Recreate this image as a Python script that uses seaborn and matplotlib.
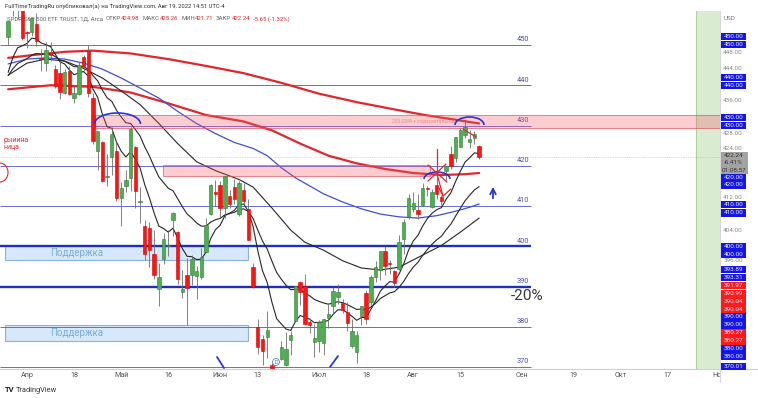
import numpy as np
import pandas as pd
import matplotlib.pyplot as plt
from matplotlib.patches import Rectangle, Arc
import seaborn as sns

sns.set_theme(style="white")
plt.rcParams['font.family'] = ['Roboto', 'DejaVu Sans']

# SPY daily bars (1D), 28 Mar - 19 Aug 2022
dates = ['03-28', '03-29', '03-30', '03-31', '04-01', '04-04', '04-05', '04-06', '04-07', '04-08',
         '04-11', '04-12', '04-13', '04-14', '04-18', '04-19', '04-20', '04-21', '04-22', '04-25',
         '04-26', '04-27', '04-28', '04-29', '05-02', '05-03', '05-04', '05-05', '05-06', '05-09',
         '05-10', '05-11', '05-12', '05-13', '05-16', '05-17', '05-18', '05-19', '05-20', '05-23',
         '05-24', '05-25', '05-26', '05-27', '05-31', '06-01', '06-02', '06-03', '06-06', '06-07',
         '06-08', '06-09', '06-10', '06-13', '06-14', '06-15', '06-16', '06-17', '06-21', '06-22',
         '06-23', '06-24', '06-27', '06-28', '06-29', '06-30', '07-01', '07-05', '07-06', '07-07',
         '07-08', '07-11', '07-12', '07-13', '07-14', '07-15', '07-18', '07-19', '07-20', '07-21',
         '07-22', '07-25', '07-26', '07-27', '07-28', '07-29', '08-01', '08-02', '08-03', '08-04',
         '08-05', '08-08', '08-09', '08-10', '08-11', '08-12', '08-15', '08-16', '08-17', '08-18',
         '08-19']
opens = [452.06, 460.02, 460.34, 458.60, 453.31, 453.13, 455.22, 446.89, 445.59, 447.97,
         444.11, 443.08, 438.03, 443.55, 436.81, 437.86, 446.92, 448.54, 436.91, 423.67,
         425.83, 417.24, 422.29, 423.59, 412.07, 415.01, 417.08, 424.55, 411.10, 405.10,
         404.49, 398.07, 389.37, 396.71, 399.98, 406.53, 403.50, 388.62, 392.83, 392.83,
         392.56, 392.31, 398.67, 407.91, 413.55, 415.17, 409.42, 412.40, 414.78, 408.10,
         413.93, 409.34, 394.88, 379.85, 376.85, 377.36, 370.51, 365.51, 371.89, 370.62,
         376.64, 381.40, 391.05, 390.23, 381.23, 376.24, 376.56, 375.88, 382.11, 385.12,
         387.27, 385.85, 383.65, 375.10, 373.61, 382.55, 388.38, 386.08, 392.47, 394.16,
         398.92, 395.75, 393.84, 394.36, 401.89, 407.58, 409.15, 409.12, 410.30, 414.37,
         409.66, 415.25, 412.22, 418.78, 422.99, 422.03, 424.77, 427.73, 425.99, 426.86,
         424.98]
highs = [455.91, 462.07, 461.20, 458.76, 453.46, 456.91, 457.83, 448.93, 450.69, 450.63,
         445.00, 445.75, 444.11, 444.73, 439.75, 445.80, 447.57, 450.01, 438.08, 428.69,
         426.04, 422.92, 429.64, 425.87, 415.92, 418.93, 429.66, 425.00, 414.80, 406.41,
         406.08, 404.04, 395.80, 403.18, 403.97, 408.57, 403.80, 394.14, 397.03, 397.73,
         395.15, 399.45, 407.04, 415.38, 416.46, 416.24, 417.44, 414.04, 416.61, 416.22,
         415.82, 411.74, 395.78, 381.81, 377.94, 383.90, 370.94, 369.38, 376.53, 378.72,
         378.83, 390.09, 391.36, 393.16, 382.27, 380.66, 381.70, 381.98, 385.87, 389.83,
         390.64, 386.87, 386.16, 381.92, 379.05, 385.25, 389.09, 392.87, 396.26, 398.84,
         400.18, 396.47, 394.06, 402.88, 406.80, 413.03, 413.41, 413.00, 415.68, 415.09,
         414.15, 417.62, 412.75, 420.00, 424.95, 427.21, 429.50, 431.73, 428.88, 428.61,
         425.26]
lows = [450.06, 457.18, 456.47, 451.16, 449.14, 452.26, 449.82, 443.47, 443.53, 445.94,
        439.39, 436.65, 437.84, 437.68, 435.61, 437.68, 443.48, 437.10, 425.44, 418.84,
        416.07, 415.01, 417.60, 411.21, 405.02, 413.36, 413.71, 409.44, 405.73, 396.50,
        394.82, 391.96, 385.15, 395.61, 397.60, 402.58, 390.55, 387.11, 380.54, 390.38,
        386.96, 391.89, 398.45, 407.70, 410.03, 406.93, 407.04, 409.51, 410.55, 407.61,
        410.38, 401.44, 389.75, 373.30, 370.59, 372.12, 364.08, 362.17, 371.81, 370.18,
        372.89, 381.37, 385.45, 380.53, 378.42, 372.56, 373.80, 372.90, 379.60, 383.27,
        385.66, 383.50, 378.99, 374.66, 371.04, 380.54, 380.66, 385.39, 391.03, 391.63,
        392.75, 393.21, 389.95, 394.05, 398.15, 406.77, 408.40, 406.82, 410.00, 412.44,
        409.60, 411.83, 410.22, 415.94, 419.21, 421.03, 424.71, 426.88, 424.49, 425.50,
        421.71]
closes = [455.91, 461.55, 458.70, 451.64, 452.92, 456.80, 451.03, 446.52, 448.77, 447.57,
          439.92, 438.29, 443.31, 437.79, 437.97, 445.04, 444.71, 438.06, 426.04, 428.51,
          416.10, 417.27, 427.81, 412.00, 414.48, 416.38, 429.06, 413.81, 411.34, 398.17,
          399.09, 392.75, 392.34, 401.72, 400.09, 408.32, 391.86, 389.46, 389.63, 396.92,
          393.89, 397.37, 405.31, 415.26, 412.93, 409.59, 417.39, 410.54, 411.79, 415.74,
          411.22, 401.44, 389.80, 375.00, 373.87, 379.20, 366.65, 365.86, 375.07, 374.39,
          378.06, 390.08, 388.59, 380.65, 380.34, 377.25, 381.24, 381.96, 383.25, 388.99,
          388.67, 384.23, 380.83, 378.83, 377.91, 385.13, 381.95, 392.27, 394.77, 398.79,
          395.09, 395.57, 390.89, 401.04, 406.07, 411.99, 410.77, 408.06, 414.45, 414.17,
          413.47, 412.99, 411.35, 419.99, 419.99, 427.10, 428.86, 429.70, 426.65, 427.89,
          422.24]

# moving averages
ema_fast = [443.2, 446.9, 449.3, 449.8, 450.4, 451.7, 451.5, 450.5, 450.1, 449.6,
            447.7, 445.8, 445.3, 443.8, 442.6, 443.1, 443.4, 442.3, 439.1, 437.0,
            432.8, 429.7, 429.3, 425.9, 423.6, 422.2, 423.5, 421.6, 419.5, 415.3,
            412.0, 408.2, 405.0, 404.4, 403.5, 404.5, 402.0, 399.4, 397.5, 397.4,
            396.7, 396.8, 398.5, 401.9, 404.1, 405.2, 407.6, 408.2, 408.9, 410.3,
            410.5, 408.7, 404.9, 398.9, 393.9, 391.0, 386.1, 382.0, 380.7, 379.4,
            379.1, 381.3, 382.8, 382.3, 381.9, 381.0, 381.1, 381.2, 381.6, 383.1,
            384.2, 384.2, 383.5, 382.6, 381.6, 382.3, 382.3, 384.3, 386.4, 388.8,
            390.1, 391.2, 391.1, 393.1, 395.7, 399.0, 401.3, 402.7, 405.0, 406.9,
            408.2, 409.1, 409.6, 411.7, 413.3, 416.1, 418.6, 420.9, 422.0, 423.2,
            423.0]
ema_mid = [442.4, 444.1, 445.4, 446.0, 446.6, 447.5, 447.9, 447.7, 447.8, 447.8,
           447.1, 446.3, 446.0, 445.3, 444.6, 444.6, 444.6, 444.0, 442.4, 441.1,
           438.8, 436.9, 436.0, 433.8, 432.1, 430.7, 430.5, 429.0, 427.4, 424.7,
           422.4, 419.7, 417.2, 415.8, 414.4, 413.8, 411.8, 409.8, 408.0, 407.0,
           405.8, 405.0, 405.0, 406.0, 406.6, 406.9, 407.8, 408.1, 408.4, 409.1,
           409.3, 408.6, 406.9, 404.0, 401.3, 399.3, 396.3, 393.5, 391.8, 390.3,
           389.2, 389.3, 389.2, 388.4, 387.7, 386.8, 386.3, 385.9, 385.6, 385.9,
           386.2, 386.0, 385.5, 384.9, 384.3, 384.4, 384.1, 384.9, 385.8, 387.0,
           387.7, 388.4, 388.7, 389.8, 391.3, 393.2, 394.8, 396.0, 397.7, 399.2,
           400.5, 401.6, 402.5, 404.1, 405.5, 407.5, 409.4, 411.3, 412.7, 414.0,
           414.8]
slow_bar = [0, 4, 8, 12, 16, 20, 24, 28, 32, 36, 40, 44, 49, 52, 56, 60, 63, 67, 71, 75,
            79, 83, 87, 92, 96, 100]
slow_val = [442.5, 445.5, 446.5, 446.0, 444.2, 441.8, 438.6, 435.2, 430.5, 425.5, 421.0,
            418.8, 416.6, 414.7, 409.5, 404.0, 401.0, 399.0, 396.4, 394.6, 394.1, 394.8,
            397.2, 400.2, 403.5, 407.0]
blue_bar = [0, 4, 8, 12, 16, 20, 24, 28, 32, 36, 40, 44, 48, 52, 55, 58, 61, 64, 67, 71,
            75, 79, 83, 87, 91, 95, 98, 100]
blue_val = [445.3, 446.5, 446.8, 446.5, 445.5, 444.0, 441.8, 439.3, 436.8, 433.5, 430.5,
            428.0, 425.8, 424.3, 422.5, 419.5, 417.0, 415.0, 413.0, 411.0, 409.3, 408.0,
            407.3, 407.0, 407.6, 408.7, 409.7, 410.5]
sma200_bar = [0, 6, 12, 18, 26, 34, 42, 50, 58, 66, 74, 82, 88, 94, 100]
sma200_val = [446.8, 447.6, 448.3, 448.6, 447.9, 446.5, 444.8, 443.0, 440.6, 437.9, 435.8,
              434.0, 432.7, 431.6, 430.5]
red2_bar = [0, 9, 18, 26, 34, 42, 50, 56, 62, 68, 74, 80, 86, 92, 97, 100]
red2_val = [439.0, 440.0, 439.6, 438.2, 435.5, 432.6, 431.0, 428.8, 425.5, 422.5, 420.6,
            419.2, 418.2, 417.7, 417.9, 418.2]

levels = [450, 440, 430, 420, 410, 400, 390, 380, 370]
bold_levels = [400, 390]
last_price = 422.24

tick_bar = [4, 14, 24, 34, 45, 53, 66, 76, 86, 96, 109, 120, 130, 140, 151]
tick_text = ['Апр', '18', 'Май', '16', 'Июн', '13', 'Июл', '18', 'Авг', '15',
             'Сен', '19', 'Окт', '17', 'Ноя']

# right price scale tags
tag_text = ['450.00', '450.00', '448.00', '444.00', '440.00', '440.00', '436.00', '430.00',
            '430.00', '428.00', '424.00', '420.00', '420.00', '412.00', '410.00', '410.00',
            '404.00', '400.00', '400.00', '396.00', '393.89', '393.31', '391.97', '390.99',
            '390.04', '390.04', '390.00', '390.00', '380.27', '380.27', '380.00', '380.00',
            '370.01']
tag_kind = ['b', 'b', 'g', 'g', 'b', 'b', 'g', 'b', 'b', 'g', 'g', 'b', 'b', 'g', 'b', 'b',
            'g', 'b', 'b', 'g', 'b', 'b', 'r', 'r', 'r', 'r', 'b', 'b', 'r', 'r', 'b', 'b', 'b']
tag_row = [36.7, 44.3, 52, 69, 77.3, 85.7, 100.7, 117.3, 125.7, 133.3, 149, 177.3, 185,
           197.3, 204.7, 213, 230.3, 246.3, 254, 260.3, 269.3, 277.3, 285.3, 293.7, 301.7,
           309.3, 317, 324.7, 333, 340.7, 348.7, 356.3, 366.3]

W, H = 758, 398


def xi(px):
    # screen x pixel -> bar index
    return (px - 8.16) / 4.71


def yp(py):
    # screen y pixel -> price
    return 450 - (py - 45) / 4.025


fig = plt.figure(figsize=(W / 100, H / 100), dpi=100, facecolor='white')
ax = fig.add_axes([0, 1 - 369 / H, 719.5 / W, (369 - 11) / H])
ax.set_facecolor('white')
ax.set_xlim(xi(0), xi(719.5))
ax.set_ylim(yp(369), yp(11))

blue = '#2636d4'
red = '#e3262a'

# background zones
ax.axvspan(146.0, xi(719.5), color='#d9ecd2', lw=0, zorder=0)
ax.axvline(146.0, color='#a9d39a', lw=0.8, zorder=0.5)
ax.axhline(last_price, color='#b5b5b5', lw=0.5, ls=(0, (1, 1.5)), zorder=1)

for top, bot in [(246, 259.5), (325, 341)]:
    ax.add_patch(Rectangle((xi(5), yp(bot)), xi(248) - xi(5), yp(top) - yp(bot),
                           fc='#cfe5f8', ec='#7ba7e0', lw=0.8, alpha=0.85, zorder=1.5))
    ax.text(xi(77), yp((top + bot) / 2), 'Поддержка', color='#7aaae0', fontsize=7,
            ha='center', va='center', zorder=1.6)

# horizontal levels
for lev in levels:
    bold = lev in bold_levels
    ax.hlines(lev, xi(0), xi(531), color='#1f2fb8' if bold else '#6a6ad8',
              lw=1.7 if bold else 0.7, zorder=2)
    ax.text(xi(523), lev + 1.3, str(lev), color='#4a4fb0', fontsize=5.3,
            ha='center', va='center', zorder=2)

# moving averages
sns.lineplot(x=sma200_bar, y=sma200_val, ax=ax, color=red, linewidth=1.6, zorder=3)
sns.lineplot(x=red2_bar, y=red2_val, ax=ax, color=red, linewidth=1.6, zorder=3)
sns.lineplot(x=blue_bar, y=blue_val, ax=ax, color='#3f4fd8', linewidth=0.9, zorder=3)
sns.lineplot(x=slow_bar, y=slow_val, ax=ax, color='#262626', linewidth=0.8, zorder=3)
sns.lineplot(x=np.arange(len(ema_mid)), y=ema_mid, ax=ax, color='#262626', linewidth=0.8, zorder=3)
sns.lineplot(x=np.arange(len(ema_fast)), y=ema_fast, ax=ax, color='#262626', linewidth=0.8, zorder=3)

# pink resistance bands
ax.add_patch(Rectangle((xi(95), yp(127.5)), xi(719.5) - xi(95), yp(115) - yp(127.5),
                       fc=(0.95, 0.35, 0.40, 0.30), ec=(0.92, 0.3, 0.35, 0.8), lw=0.6, zorder=3.5))
ax.add_patch(Rectangle((xi(163), yp(176)), xi(430) - xi(163), yp(165) - yp(176),
                       fc=(0.95, 0.35, 0.40, 0.30), ec=(0.92, 0.3, 0.35, 0.8), lw=0.6, zorder=3.5))
ax.text(xi(392), yp(121), '200 SMA + горизонтальная', fontsize=3.6, color='#ee8c8c',
        va='center', zorder=3.6)

# candles
df = pd.DataFrame({'date': dates, 'open': opens, 'high': highs, 'low': lows, 'close': closes})
df['bar'] = np.arange(len(df))
df['up'] = df['close'] >= df['open']
df['body'] = (df['close'] - df['open']).abs().clip(lower=0.25)
df['base'] = df[['open', 'close']].min(axis=1)
ax.vlines(df['bar'], df['low'], df['high'], color='#6e6e6e', lw=0.6, zorder=4)
for is_up, fc, ec in [(True, '#4caf50', '#2e7d32'), (False, '#ff1414', '#d40000')]:
    d = df[df['up'] == is_up]
    ax.bar(d['bar'], d['body'], bottom=d['base'], width=0.72, color=fc,
           edgecolor=ec, linewidth=0.4, zorder=5)

# hand drawings
ax.add_patch(Arc((xi(469.5), yp(125)), 29 / 4.71, 16 / 4.025, theta1=0, theta2=180,
                 color=blue, lw=1.2, zorder=7))
ax.add_patch(Arc((xi(437), yp(179)), 26 / 4.71, 14 / 4.025, theta1=0, theta2=180,
                 color=blue, lw=1.2, zorder=7))
ax.add_patch(Arc((xi(117.5), yp(124)), 46 / 4.71, 22 / 4.025, theta1=0, theta2=180,
                 color=blue, lw=1.2, zorder=7))
ax.add_patch(Arc((xi(0), yp(172.5)), 16 / 4.71, 19 / 4.025, theta1=-90, theta2=90,
                 color=red, lw=0.8, zorder=7))
for (x0, y0), (x1, y1) in [((437, 149), (437, 174)), ((428, 165), (447, 182)),
                           ((446, 164), (428, 181)), ((437, 174), (443, 196)),
                           ((443, 196), (439, 188)), ((443, 196), (451, 189)),
                           ((463, 129), (476, 137))]:
    ax.plot([xi(x0), xi(x1)], [yp(y0), yp(y1)], color=red, lw=0.9, zorder=7)
for (x0, y0), (x1, y1) in [((217, 357), (224, 368)), ((330, 367), (338, 356))]:
    ax.plot([xi(x0), xi(x1)], [yp(y0), yp(y1)], color=blue, lw=1.3, zorder=7)
ax.annotate('', xy=(xi(493), yp(184)), xytext=(xi(493), yp(201)),
            arrowprops=dict(arrowstyle='->', color=blue, lw=1.3, mutation_scale=10), zorder=7)
ax.text(xi(276), yp(362), 'D', fontsize=3.5, color='#3b62d6', ha='center', va='center', zorder=7,
        bbox=dict(boxstyle='circle,pad=0.2', fc='white', ec='#5b7fd6', lw=0.6))
ax.text(xi(527), yp(296), '-20%', fontsize=11, color='#333333', ha='center', va='center', zorder=7)
ax.text(xi(4), yp(140), 'рыиина', fontsize=5, color=red, va='center', zorder=7)
ax.text(xi(4), yp(147.5), 'ница', fontsize=5, color=red, va='center', zorder=7)

# legend line drawn under the candles, pieces laid out one after another
legend_parts = [('SPDR S&P 500 ETF TRUST, 1Д, Arca', '#666666', 3), ('ОТКР', '#666666', 0),
                ('424.98', red, 3), ('МАКС', '#666666', 0), ('425.26', red, 3),
                ('МИН', '#666666', 0), ('421.71', red, 3), ('ЗАКР', '#666666', 0),
                ('422.24', red, 3), ('-5.65 (-1.32%)', red, 0)]
renderer = fig.canvas.get_renderer()
cur = 7.0
for txt, col, gap in legend_parts:
    t = ax.text(cur / W, 1 - 19 / H, txt, transform=fig.transFigure, fontsize=4.3, color=col,
                va='center', zorder=3.8)
    cur = t.get_window_extent(renderer).x1 + gap

# time axis
for s in ['top', 'left', 'right']:
    ax.spines[s].set_visible(False)
ax.spines['bottom'].set_color('#cfcfcf')
ax.spines['bottom'].set_linewidth(0.8)
ax.set_yticks([])
ax.set_xticks(tick_bar, tick_text)
ax.tick_params(axis='x', length=0, labelsize=5.2, labelcolor='#555555', pad=2)
ax.set_xlabel('')
ax.set_ylabel('')

# price scale on the right, in screen pixels
axp = fig.add_axes([720 / W, 0, 38 / W, 1])
axp.set_xlim(0, 38)
axp.set_ylim(H, 0)
axp.axis('off')
axp.add_patch(Rectangle((0, 0), 38, H, fc='white', ec='none', zorder=0))
axp.plot([0.3, 0.3], [11, 382], color='#d6d6d6', lw=0.8)
axp.plot([0, 38], [369, 369], color='#cfcfcf', lw=0.8)
axp.text(4, 18.3, 'USD', fontsize=4.6, color='#777777', va='center')
box_col = {'b': '#1515e6', 'r': '#ff1a1a'}
for txt, kind, row in zip(tag_text, tag_kind, tag_row):
    if kind == 'g':
        axp.text(13, row, txt, fontsize=4.6, color='#8a8a8a', ha='center', va='center')
    else:
        axp.add_patch(Rectangle((0.6, row - 3.8), 25.6, 7.6, fc=box_col[kind], ec='none', zorder=2))
        axp.text(13.4, row, txt, fontsize=4.6, color='#e8e8ff', ha='center', va='center', zorder=3)
axp.add_patch(Rectangle((0.6, 152), 27, 22, fc='#a3a3a3', ec='none', zorder=2))
for txt, row in [('422.24', 155.7), ('-6.41%', 163), ('01:08:57', 170.5)]:
    axp.text(13.8, row, txt, fontsize=4.6, color='#333333', ha='center', va='center', zorder=3)

# header and footer
fig.text(5 / W, 1 - 6 / H, 'FullTimeTradingRu опубликовал(а) на TradingView.com, Авг 19, 2022 14:51 UTC-4',
         fontsize=4.25, color='#333333', va='center')
fig.text(5 / W, 1 - 390 / H, 'TV', fontsize=5.5, fontweight='bold', color='#222222', va='center')
fig.text(16 / W, 1 - 390 / H, 'TradingView', fontsize=5.3, color='#333333', va='center')

fig.savefig('out.png', dpi=100, facecolor='white')
